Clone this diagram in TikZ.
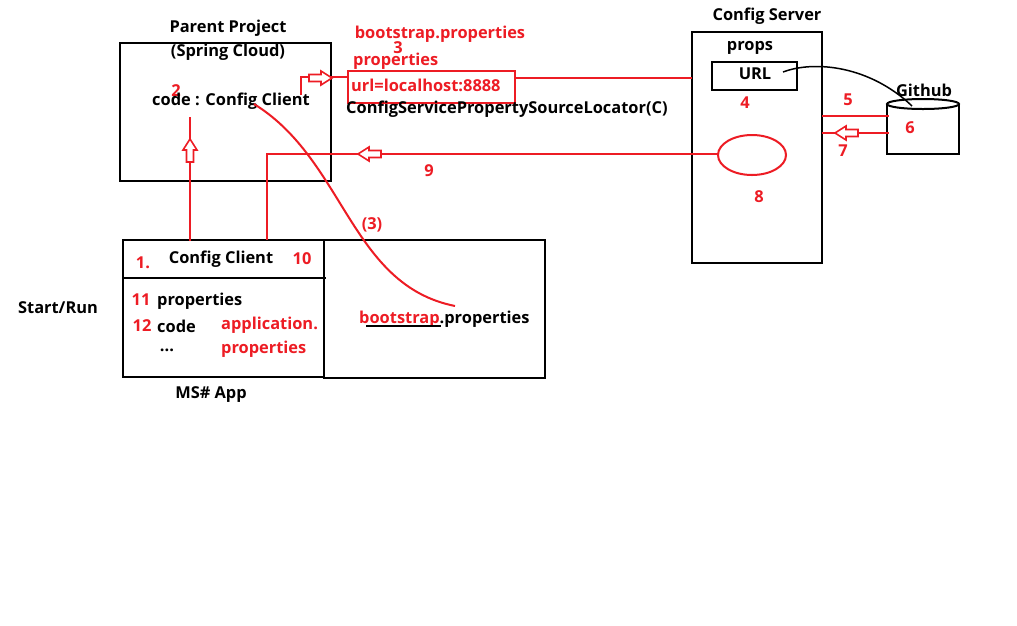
\documentclass[tikz,border=0pt]{standalone}
\usepackage{fontspec}
\setmainfont{Open Sans}[Ligatures=NoCommon]
\definecolor{pred}{RGB}{237,28,36}
\begin{document}
\begin{tikzpicture}[x=1pt,y=-1pt,
  every node/.style={font=\fontsize{16.4}{18}\selectfont\bfseries, inner sep=0pt, yshift=-1pt},
  box/.style={draw=black, line width=2pt},
  rl/.style={draw=pred, line width=2pt},
  rt/.style={text=pred},
  harrow/.pic={\draw[pred, line width=1.6pt, fill=white] (0,0) -- (-11,-7) -- (-11,-3.5) -- (-23,-3.5) -- (-23,3.5) -- (-11,3.5) -- (-11,7) -- cycle;}]
\useasboundingbox (0,0) rectangle (1017,625);
\fill[white] (0,0) rectangle (1017,625);
% Parent project
\draw[box] (120,43) rectangle (331,181);
\node (pp) at (228,27) {Parent Project};
\node (sc) at (228,51) {(Spring Cloud)};
\node[rt] (n2) at (176,90) {2};
\node (cc) at (231,100) {code : Config Client};
% bootstrap props
\node[rt] (bp) at (440,33) {bootstrap.properties};
\node[rt] (n3) at (398,47) {3};
\node[rt, anchor=west] (pr) at (353,60) {properties};
\node[rl, minimum width=167pt, minimum height=32pt, yshift=1pt] (url) at (431.5,86.5) {};
\node[rt, anchor=west] (urlt) at (351,84) {url=localhost:8888};
\node[anchor=west] (cspl) at (346,108) {ConfigServicePropertySourceLocator(C)};
% Config server
\draw[box] (692,32) rectangle (822,263);
\node (cs) at (767,15) {Config Server};
\node (props) at (750,47) {props};
\draw[box] (712,62) rectangle (797,90);
\node (urlb) at (755,73) {URL};
\node[rt] (n4) at (745,102) {4};
\draw[pred, line width=2pt] (752,155) ellipse [x radius=34, y radius=20];
\coordinate (ell) at (718,153);
\node[rt] (n8) at (759,196) {8};
% Github
\draw[black, line width=2pt] (887,104) -- (887,154) -- (959,154) -- (959,104);
\draw[black, line width=2pt, fill=white] (923,104) ellipse [x radius=36, y radius=5];
\node (gh) at (924,89) {Github};
\node[rt] (n5) at (848,99) {5};
\node[rt] (n6) at (910,127) {6};
\node[rt] (n7) at (843,150) {7};
\coordinate (cs5) at (822,115);
\coordinate (gh5) at (889,115);
\coordinate (cs7) at (822,132);
\coordinate (gh7) at (889,132);
\draw[rl] (cs5) -- (gh5);
\draw[rl] (cs7) -- (gh7);
\pic at (835,132) [rotate=180] {harrow};
\draw[black, line width=1.5pt] (783,72) .. controls (815,60) and (870,66) .. (912,106);
% url to server
\coordinate (csl) at (692,77);
\draw[rl] (url.east |- csl) -- (csl);
% arrow from parent to url
\coordinate (pa) at (301,94);
\draw[rl] (pa) -- (301,77) -- (url.west |- 0,77);
\pic at (332,77) {harrow};
% line 9
\coordinate (c9) at (267,153);
\node[rt] (n9) at (429,170) {9};
% MS App
\draw[box] (123,240) rectangle (324,377);
\draw[box] (324,240) rectangle (545,378);
\draw[black, line width=2pt] (123,278) -- (326,278);
\node[rt] (n1) at (143,262) {1.};
\node (ccl) at (221,258) {Config Client};
\node[rt] (n10) at (302,258) {10};
\node[rt] (n11) at (141,299) {11};
\node[anchor=west] (p11) at (157,300) {properties};
\node[rt] (n12) at (142,325) {12};
\node[anchor=west] (c12) at (157,325) {code};
\node (dots) at (167,349) {...};
\node[rt, anchor=west] (ap) at (221,324) {application.};
\node[rt, anchor=west] (ap2) at (221,348) {properties};
\node (sr) at (58,307) {Start/Run};
\node (ms) at (211,394) {MS\# App};
\node[rt] (p3) at (372,224) {(3)};
\node[anchor=west] (bsp) at (359,318) {\textcolor{pred}{bootstrap}.properties};
\draw[black, line width=1.2pt] (366,326) -- (441,326);
% verticals
\coordinate (up1) at (190,240);
\coordinate (up2) at (190,116);
\draw[rl] (up1) -- (up2);
\pic at (190,138) [rotate=90] {harrow};
\draw[rl] (267,240) -- (c9) -- (ell);
\pic at (358,153) [rotate=180] {harrow};
% red curve
\draw[rl] (254,104) .. controls (345,160) and (350,285) .. (455,306);
\end{tikzpicture}
\end{document}
